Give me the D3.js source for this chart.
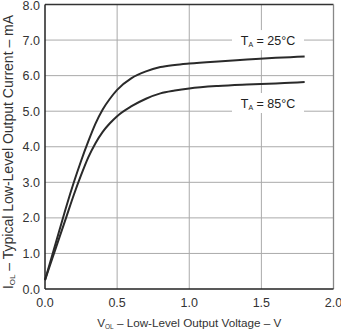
<!DOCTYPE html>
<html><head><meta charset="utf-8">
<script src="https://cdn.jsdelivr.net/npm/d3@7"></script>
<style>body{margin:0;background:#fff}svg{display:block;font-family:"Liberation Sans",Arial,sans-serif}</style>
</head><body><svg id="c" width="341" height="329"></svg>
<script>
const voltage = [0, 0.05, 0.1, 0.15, 0.2, 0.25, 0.3, 0.35, 0.4, 0.45, 0.5, 0.6, 0.7, 0.8, 0.9, 1.0, 1.2, 1.4, 1.6, 1.7, 1.8];
const current25 = [0.25, 0.95, 1.65, 2.35, 3.0, 3.6, 4.15, 4.65, 5.05, 5.35, 5.6, 5.93, 6.12, 6.24, 6.3, 6.34, 6.4, 6.45, 6.5, 6.52, 6.54];
const current85 = [0.25, 0.85, 1.45, 2.05, 2.65, 3.2, 3.7, 4.1, 4.42, 4.66, 4.86, 5.14, 5.35, 5.5, 5.58, 5.64, 5.71, 5.75, 5.78, 5.8, 5.82];
const xTicks = [0, 0.5, 1.0, 1.5, 2.0];
const yTicks = [0, 1, 2, 3, 4, 5, 6, 7, 8];
const seriesLabels = ["25°C", "85°C"];
const labelPos = [[1.546, 7.0], [1.546, 5.23]];

const svg = d3.select("#c");
const L = 45, R = 333.5, T = 4.5, B = 289;
const x = d3.scaleLinear().domain([0, 2]).range([L, R]);
const y = d3.scaleLinear().domain([0, 8]).range([B, T]);

// grid
svg.append("g").selectAll("line").data(xTicks.slice(1, -1)).join("line")
  .attr("x1", d => x(d)).attr("x2", d => x(d)).attr("y1", T).attr("y2", B)
  .attr("stroke", "#aaa").attr("stroke-width", 1);
svg.append("g").selectAll("line").data(yTicks.slice(1, -1)).join("line")
  .attr("x1", L).attr("x2", R).attr("y1", d => y(d)).attr("y2", d => y(d))
  .attr("stroke", "#aaa").attr("stroke-width", 1);

// labels with white boxes
const lab = svg.append("g");
seriesLabels.forEach((t, i) => {
  const cx = x(labelPos[i][0]), cy = y(labelPos[i][1]);
  lab.append("rect").attr("x", cx - 36).attr("y", cy - 10).attr("width", 72).attr("height", 20).attr("fill", "#fff");
  const tx = lab.append("text").attr("x", cx).attr("y", cy + 4.5).attr("text-anchor", "middle")
    .attr("font-size", 12.5).attr("fill", "#222");
  tx.append("tspan").text("T");
  tx.append("tspan").attr("font-size", 7).attr("dy", 2).text("A");
  tx.append("tspan").attr("dy", -2).text(" = " + t);
});

// curves
const line = d3.line().x(d => x(d[0])).y(d => y(d[1])).curve(d3.curveMonotoneX);
[current25, current85].forEach(s => {
  svg.append("path").datum(voltage.map((v, i) => [v, s[i]])).attr("d", line)
    .attr("fill", "none").attr("stroke", "#2a2a2a").attr("stroke-width", 2);
});

// frame
svg.append("line").attr("x1", L).attr("x2", R).attr("y1", T).attr("y2", T).attr("stroke", "#333").attr("stroke-width", 1.3);
svg.append("line").attr("x1", R).attr("x2", R).attr("y1", T).attr("y2", B).attr("stroke", "#888").attr("stroke-width", 1.3);
svg.append("line").attr("x1", L).attr("x2", L).attr("y1", T).attr("y2", B).attr("stroke", "#222").attr("stroke-width", 1.5);
svg.append("line").attr("x1", L).attr("x2", R).attr("y1", B).attr("y2", B).attr("stroke", "#222").attr("stroke-width", 1.5);

// tick labels
svg.append("g").selectAll("text").data(yTicks).join("text")
  .attr("x", 40).attr("y", d => Math.max(y(d) + 4.5, 10)).attr("text-anchor", "end")
  .attr("font-size", 12.5).attr("fill", "#333").text(d => d3.format(".1f")(d));
svg.append("g").selectAll("text").data(xTicks).join("text")
  .attr("x", d => x(d)).attr("y", 307).attr("text-anchor", "middle")
  .attr("font-size", 12.5).attr("fill", "#333").text(d => d3.format(".1f")(d));

// axis titles
const xt = svg.append("text").attr("x", (L + R) / 2).attr("y", 327).attr("text-anchor", "middle")
  .attr("font-size", 11.7).attr("fill", "#333");
xt.append("tspan").text("V");
xt.append("tspan").attr("font-size", 6.5).attr("dy", 2).text("OL");
xt.append("tspan").attr("dy", -2).text(" – Low-Level Output Voltage – V");

const yt = svg.append("text").attr("transform", `translate(13,152) rotate(-90)`)
  .attr("text-anchor", "middle").attr("font-size", 14).attr("fill", "#333");
yt.append("tspan").text("I");
yt.append("tspan").attr("font-size", 8).attr("dy", 2).text("OL");
yt.append("tspan").attr("dy", -2).text(" – Typical Low-Level Output Current – mA");
</script></body></html>
